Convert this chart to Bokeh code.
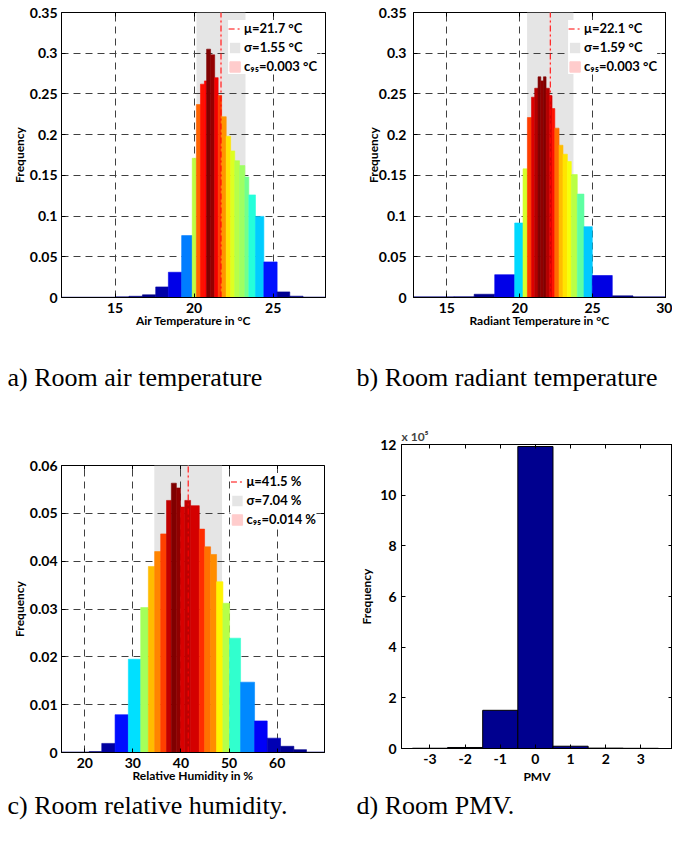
import numpy as np
from bokeh.plotting import figure
from bokeh.models import (ColumnDataSource, Range1d, FixedTicker, PrintfTickFormatter,
                          CustomJSTickFormatter, LinearAxis, Legend, LegendItem, Title)
from bokeh.transform import linear_cmap
from bokeh.layouts import row, column
from bokeh.embed import file_html
from bokeh.resources import INLINE

# ---------------- data ----------------
air_edges = [11.61, 15.04, 15.88, 16.73, 17.57, 18.37, 19.21, 19.88, 20.14, 20.40,
             20.65, 20.79, 21.04, 21.30, 21.52, 21.74, 22.03, 22.31, 22.57, 22.87,
             23.21, 23.46, 23.88, 24.41, 25.25, 26.05, 26.89, 28.31]
air_freq = [0.0004, 0.0008, 0.0015, 0.0033, 0.013, 0.031, 0.076, 0.171, 0.237,
            0.262, 0.266, 0.305, 0.298, 0.270, 0.248, 0.222, 0.198, 0.180, 0.168,
            0.162, 0.148, 0.126, 0.0996, 0.0437, 0.0069, 0.0016, 0.0005]
air_mu, air_sigma, air_c95 = 21.7, 1.55, 0.003

rad_edges = [12.72, 15.5, 16.88, 18.29, 19.66, 20.23, 20.53, 20.81, 21.03, 21.26,
             21.45, 21.63, 21.81, 22.04, 22.22, 22.41, 22.70, 22.97, 23.27, 23.54,
             23.95, 24.41, 24.98, 26.35, 27.77, 30.0]
rad_freq = [0.0008, 0.001, 0.004, 0.028, 0.0915, 0.158, 0.221, 0.246, 0.257, 0.271,
            0.266, 0.271, 0.257, 0.248, 0.232, 0.208, 0.187, 0.176, 0.167, 0.151,
            0.127, 0.087, 0.027, 0.002, 0.0008]
rad_mu, rad_sigma, rad_c95 = 22.1, 1.59, 0.003

hum_edges = [15.16, 20.9, 23.53, 26.3, 29.06, 31.63, 33.22, 34.53, 35.78, 37.0,
             38.0, 39.04, 39.9, 40.8, 42.0, 43.8, 44.91, 46.16, 47.4, 48.72,
             50.1, 52.39, 55.3, 57.93, 60.7, 63.47, 66.1, 69.84]
hum_freq = [0.0001, 0.0002, 0.0019, 0.0079, 0.0195, 0.0303, 0.0389, 0.0420, 0.0457,
            0.0527, 0.0563, 0.0553, 0.0513, 0.0527, 0.0516, 0.0467, 0.0430, 0.0414,
            0.0357, 0.0312, 0.0239, 0.0147, 0.0066, 0.0030, 0.0013, 0.0006, 0.0001]
hum_mu, hum_sigma, hum_c95 = 41.5, 7.04, 0.014

pmv_bins = [-3, -2, -1, 0, 1, 2, 3]
pmv_counts = [1000, 4000, 150800, 1192000, 9000, 1500, 800]

air_xticks = [15, 20, 25]
rad_xticks = [15, 20, 25, 30]
hum_xticks = [20, 30, 40, 50, 60]
temp_yticks = [0, 0.05, 0.1, 0.15, 0.2, 0.25, 0.3, 0.35]
hum_yticks = [0, 0.01, 0.02, 0.03, 0.04, 0.05, 0.06]
pmv_xticks = [-3, -2, -1, 0, 1, 2, 3]
pmv_yticks = [0, 200000, 400000, 600000, 800000, 1000000, 1200000]

captions = ["a) Room air temperature", "b) Room radiant temperature",
            "c) Room relative humidity.", "d) Room PMV."]

FONT = "Lato"
CAP_FONT = "Liberation Serif"


def jet_palette(n=256):
    out = []
    for i in range(n):
        x = i / (n - 1)
        r = min(max(1.5 - abs(4 * x - 3), 0), 1)
        g = min(max(1.5 - abs(4 * x - 2), 0), 1)
        b = min(max(1.5 - abs(4 * x - 1), 0), 1)
        out.append("#%02x%02x%02x" % (round(r * 255), round(g * 255), round(b * 255)))
    return out


JET = jet_palette()


def style_axis(ax):
    ax.major_tick_in = 4
    ax.major_tick_out = 0
    ax.minor_tick_in = 0
    ax.minor_tick_out = 0
    ax.axis_line_color = "black"
    ax.major_tick_line_color = "black"
    ax.major_label_text_font = FONT
    ax.major_label_text_font_size = "14px"
    ax.major_label_text_font_style = "bold"
    ax.major_label_text_color = "black"
    ax.axis_label_text_font = FONT
    ax.axis_label_text_font_size = "12px"
    ax.axis_label_text_font_style = "bold"
    ax.axis_label_text_color = "black"


def mirror_axes(p, xticks, yticks):
    for loc, ticks in (("above", xticks), ("right", yticks)):
        ax = LinearAxis(ticker=FixedTicker(ticks=ticks),
                        formatter=CustomJSTickFormatter(code="return '';"))
        ax.major_label_standoff = 0
        ax.axis_line_color = None
        ax.major_tick_in = 4
        ax.major_tick_out = 0
        ax.minor_tick_in = 0
        ax.minor_tick_out = 0
        ax.major_tick_line_color = "black"
        p.add_layout(ax, loc)


def base_fig(width, height, xr, yr, mb, title=None, margin=(0, 0, 0, 0)):
    p = figure(width=width, height=height, x_range=Range1d(*xr), y_range=Range1d(*yr),
               output_backend="svg", toolbar_location=None, title=title,
               min_border_left=mb[0], min_border_right=mb[1],
               min_border_top=mb[2], min_border_bottom=mb[3], margin=margin)
    p.outline_line_color = "black"
    p.outline_line_width = 1
    p.outline_line_alpha = 1
    p.background_fill_color = "white"
    p.border_fill_color = "white"
    return p


def add_caption(p, text, offset, standoff):
    cap = Title(text=text, align="left", offset=offset, standoff=standoff,
                text_font=CAP_FONT, text_font_size="26px", text_font_style="normal",
                text_color="black")
    p.add_layout(cap, "below")


def hist_panel(edges, freq, mu, sigma, c95, unit, xlabel, caption, xticks, yticks,
               ymax, width, height, mb, cap_offset, cap_standoff, ytick_standoff,
               ylab_standoff, margin=(0, 0, 0, 0)):
    xr = (edges[0], edges[-1])
    yr = (0, ymax)
    p = base_fig(width, height, xr, yr, mb, margin=margin)
    xa, ya = p.xaxis[0], p.yaxis[0]
    xa.ticker = FixedTicker(ticks=xticks)
    ya.ticker = FixedTicker(ticks=yticks)
    ya.formatter = PrintfTickFormatter(format="%g")
    style_axis(xa)
    style_axis(ya)
    xa.axis_label = xlabel
    ya.axis_label = "Frequency"
    xa.major_label_standoff = 5
    xa.axis_label_standoff = -3
    ya.major_label_standoff = ytick_standoff
    ya.axis_label_standoff = ylab_standoff
    p.xgrid.ticker = FixedTicker(ticks=xticks)
    p.ygrid.ticker = FixedTicker(ticks=yticks)
    p.grid.grid_line_color = "#404040"
    p.grid.grid_line_dash = "7 5"
    p.grid.grid_line_width = 1
    mirror_axes(p, xticks, yticks)

    band = p.quad(left=[mu - sigma], right=[mu + sigma], bottom=[yr[0]], top=[yr[1]],
                  fill_color="#e5e5e5", line_color=None, level="image")
    cband = p.quad(left=[mu - c95], right=[mu + c95], bottom=[yr[0]], top=[yr[1]],
                   fill_color="#ffcccc", line_color="#ffcccc", line_width=1, level="image")
    src = ColumnDataSource(dict(left=edges[:-1], right=edges[1:], top=freq))
    cmap = linear_cmap("top", JET, 0, max(freq))
    p.quad(left="left", right="right", top="top", bottom=0, source=src,
           fill_color=cmap, line_color=cmap, line_width=0.6)
    mline = p.line(x=[mu, mu], y=[yr[0], yr[1]], line_color="red",
                   line_dash="6 3 2 3", line_width=1)

    leg = Legend(items=[LegendItem(label=f"\u03bc={mu} {unit}", renderers=[mline]),
                        LegendItem(label=f"\u03c3={sigma} {unit}", renderers=[band]),
                        LegendItem(label=f"c\u2089\u2085={c95} {unit}", renderers=[cband])],
                 location="top_right")
    leg.label_text_font = FONT
    leg.label_text_font_size = "13px"
    leg.label_text_font_style = "bold"
    leg.label_text_color = "black"
    leg.glyph_width = 13
    leg.glyph_height = 13
    leg.label_height = 15
    leg.label_standoff = 3
    leg.spacing = 3
    leg.padding = 6
    leg.margin = 8
    leg.background_fill_color = "white"
    leg.background_fill_alpha = 1
    leg.border_line_color = None
    p.add_layout(leg)
    add_caption(p, caption, cap_offset, cap_standoff)
    return p


# page origin is (0, 0): rows are 423 and 421 px tall
pa = hist_panel(air_edges, air_freq, air_mu, air_sigma, air_c95, "\u00b0C",
                "Air Temperature in \u00b0C", captions[0], air_xticks, temp_yticks, 0.35,
                330, 423, (61, 5, 12, 126), -54, 61, 4, 0)
pb = hist_panel(rad_edges, rad_freq, rad_mu, rad_sigma, rad_c95, "\u00b0C",
                "Radiant Temperature in \u00b0C", captions[1], rad_xticks, temp_yticks, 0.35,
                342, 423, (83, 7, 12, 126), -57, 61, 7, -5)
pc = hist_panel(hum_edges, hum_freq, hum_mu, hum_sigma, hum_c95, "%",
                "Relative Humidity in %", captions[2], hum_xticks, hum_yticks, 0.06,
                330, 400, (61, 6, 21, 92), -54, 7, 4, 0, margin=(21, 0, 0, 0))

# ---------------- PMV panel ----------------
pd_ = base_fig(342, 417, (-3.81, 3.9), (0, 1200000), (71, 0, 21, 92),
               title="x 10\u2075", margin=(0, 0, 4, 0))
pd_.title.text_font = FONT
pd_.title.text_font_size = "12px"
pd_.title.text_font_style = "bold"
pd_.title.align = "left"
pd_.title.standoff = 2
xa, ya = pd_.xaxis[0], pd_.yaxis[0]
xa.ticker = FixedTicker(ticks=pmv_xticks)
ya.ticker = FixedTicker(ticks=pmv_yticks)
xa.formatter = PrintfTickFormatter(format="%d")
ya.formatter = CustomJSTickFormatter(code="return String(Math.round(tick / 1e5));")
style_axis(xa)
style_axis(ya)
xa.axis_label = "PMV"
ya.axis_label = "Frequency"
xa.major_label_standoff = 5
xa.axis_label_standoff = 2
ya.major_label_standoff = 5
ya.axis_label_standoff = 3
pd_.grid.visible = False
mirror_axes(pd_, pmv_xticks, pmv_yticks)
pd_.vbar(x=pmv_bins, top=pmv_counts, width=1, bottom=0,
         fill_color="#00008f", line_color="black", line_width=1)
add_caption(pd_, captions[3], -45, 5)

layout = column(row(pa, pb), row(pc, pd_))
open("out.html", "w").write(file_html(layout, INLINE))
